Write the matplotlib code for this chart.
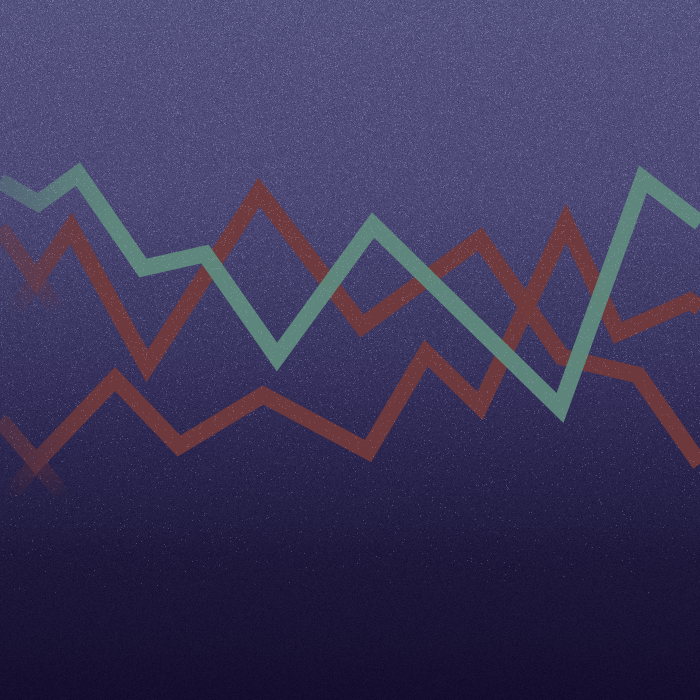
import numpy as np
import matplotlib.pyplot as plt

# vertices of the three zigzag lines (x across, y down from the top)
green_x = [0, 38, 78, 143, 205, 277, 373, 560, 643, 700]
green_y = [181, 203, 174, 268, 254, 357, 225, 408, 179, 223]

red_top_x = [0, 36, 71, 147, 259, 362, 480, 562, 638, 700]
red_top_y = [228, 279, 228, 366, 192, 326, 239, 357, 375, 464]

red_low_x = [0, 36, 115, 179, 263, 368, 426, 480, 566, 618, 690, 700]
red_low_y = [420, 462, 379, 446, 395, 451, 353, 406, 223, 333, 301, 308]

# faded overshoot of the first two segments past the first dip
ghost_top_x = [[36, 56], [36, 16]]
ghost_top_y = [[279, 308], [279, 310]]
ghost_low_x = [[36, 62], [36, 10]]
ghost_low_y = [[462, 494], [462, 496]]

GREEN = '#5f897e'
RED = '#723a3b'

W, H = 700, 700

def gradient():
	stops_y = np.array([0, 200, 350, 450, 550, 700])
	stops_c = np.array([
		[84, 82, 126],
		[76, 73, 118],
		[58, 54, 98],
		[44, 39, 80],
		[31, 26, 61],
		[21, 14, 46],
	]) / 255.0
	yy = np.arange(H)
	col = np.stack([np.interp(yy, stops_y, stops_c[:, k]) for k in range(3)], axis=1)
	img = np.repeat(col[:, None, :], W, axis=1)
	rng = np.random.default_rng(3)
	strength = np.interp(yy, [0, 300, 550, 700], [0.025, 0.02, 0.012, 0.008])
	img = img + rng.normal(0, 1, (H, W))[..., None] * strength[:, None, None]
	return np.clip(img, 0, 1)

def speckle():
	rng = np.random.default_rng(11)
	yy = np.arange(H)
	dens = np.interp(yy, [0, 250, 450, 600], [0.10, 0.07, 0.025, 0.0])[:, None]
	mask = rng.random((H, W)) < dens
	a = np.where(mask, rng.uniform(0.08, 0.28, (H, W)), 0.0)
	sp = np.zeros((H, W, 4))
	sp[..., :3] = [0.78, 0.76, 0.95]
	sp[..., 3] = a
	return sp

bg = gradient()

fig = plt.figure(figsize=(7, 7), dpi=100)
ax = fig.add_axes([0, 0, 1, 1])
ax.imshow(bg, extent=[0, W, H, 0], interpolation='nearest', zorder=0)

lw = 12
style = dict(linewidth=lw, solid_joinstyle='miter', solid_capstyle='butt')

# ghost tails: stacked pieces, each shorter, so alpha falls off towards the tip
for gx, gy in zip(ghost_top_x + ghost_low_x, ghost_top_y + ghost_low_y):
	n = 6
	for i in range(1, n + 1):
		t = i / n
		xs = [gx[0], gx[0] + (gx[1] - gx[0]) * t]
		ys = [gy[0], gy[0] + (gy[1] - gy[0]) * t]
		ax.plot(xs, ys, color=RED, alpha=0.12, zorder=1,
				linewidth=lw, solid_capstyle='butt')

ax.plot(red_top_x, red_top_y, color=RED, alpha=0.95, zorder=2, **style)
ax.plot(red_low_x, red_low_y, color=RED, alpha=0.95, zorder=3, **style)
ax.plot(green_x, green_y, color=GREEN, alpha=0.97, zorder=4, **style)

# fade the left ends by laying the background back over them
fade = np.interp(np.arange(W), [0, 30, 70, 110], [0.55, 0.4, 0.12, 0.0])
over = np.dstack([bg, np.repeat(fade[None, :], H, axis=0)])
ax.imshow(over, extent=[0, W, H, 0], interpolation='nearest', zorder=5)

ax.imshow(speckle(), extent=[0, W, H, 0], interpolation='nearest', zorder=6)

ax.set_xlim(0, W)
ax.set_ylim(H, 0)
ax.axis('off')

fig.savefig('out.png', dpi=100)
